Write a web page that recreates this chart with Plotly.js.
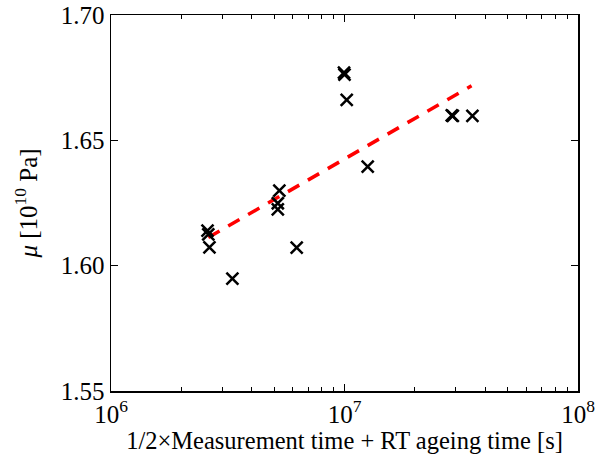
<!DOCTYPE html>
<html><head><meta charset="utf-8">
<script src="https://cdn.plot.ly/plotly-3.0.1.min.js"></script>
<style>html,body{margin:0;padding:0;background:#fff;}</style>
</head><body>
<div id="chart" style="width:597px;height:462px;"></div>
<script>
// measured points
const timeS = [2.59e6, 2.61e6, 2.64e6, 3.31e6, 5.26e6, 5.18e6, 5.18e6, 6.24e6, 9.95e6, 1.0e7, 1.022e7, 1.257e7, 2.88e7, 2.91e7, 3.53e7];
const mu    = [1.6140, 1.6125, 1.6073, 1.5948, 1.6299, 1.6249, 1.6225, 1.6072, 1.6770, 1.6762, 1.6661, 1.6395, 1.6600, 1.6598, 1.6598];
// fitted trend line
const fitX = [2.61e6, 3.5e7];
const fitY = [1.6112, 1.6718];
// axis ticks
const xMajor = [1e6, 1e7, 1e8];
const xMajorText = ['10<sup>6</sup>', '10<sup>7</sup>', '10<sup>8</sup>'];
const xMinor = [2e6,3e6,4e6,5e6,6e6,7e6,8e6,9e6,2e7,3e7,4e7,5e7,6e7,7e7,8e7,9e7];
const yTicks = [1.55, 1.60, 1.65, 1.70];
const yTickText = ['1.55', '1.60', '1.65', '1.70'];

const font = '"Liberation Serif", "Times New Roman", serif';
const traces = [
  {x: fitX, y: fitY, mode: 'lines', line: {color: '#ff0000', width: 3.5, dash: '13px,10px'}, hoverinfo: 'skip'},
  {x: timeS, y: mu, mode: 'markers', marker: {symbol: 'x-thin', size: 12, color: '#000', line: {color: '#000', width: 2.5}}}
];
const layout = {
  width: 597, height: 462,
  margin: {l: 111, r: 19, t: 15, b: 71},
  paper_bgcolor: '#fff', plot_bgcolor: '#fff',
  showlegend: false,
  font: {family: font, color: '#000', size: 24},
  xaxis: {
    type: 'log', range: [6, 8],
    tickmode: 'array', tickvals: xMajor, ticktext: xMajorText,
    ticks: 'inside', ticklen: 7, tickwidth: 1, tickcolor: '#000',
    minor: {tickmode: 'array', tickvals: xMinor, ticks: 'inside', ticklen: 4, tickwidth: 1, tickcolor: '#000'},
    showline: true, linecolor: '#000', linewidth: 1.5, mirror: 'ticks',
    showgrid: false, zeroline: false,
    tickfont: {family: font, size: 25},
    title: {text: '1/2×Measurement time + RT ageing time [s]', font: {family: font, size: 24.5}, standoff: 5}
  },
  yaxis: {
    range: [1.55, 1.70],
    tickmode: 'array', tickvals: yTicks, ticktext: yTickText,
    ticks: 'inside', ticklen: 7, tickwidth: 1, tickcolor: '#000',
    showline: true, linecolor: '#000', linewidth: 1.5, mirror: 'ticks',
    showgrid: false, zeroline: false,
    tickfont: {family: font, size: 25},
    title: {text: '<i>μ</i> [10<sup>10</sup> Pa]', font: {family: font, size: 25}, standoff: 16}
  }
};
Plotly.newPlot('chart', traces, layout, {displayModeBar: false, staticPlot: true});
</script>
</body></html>
